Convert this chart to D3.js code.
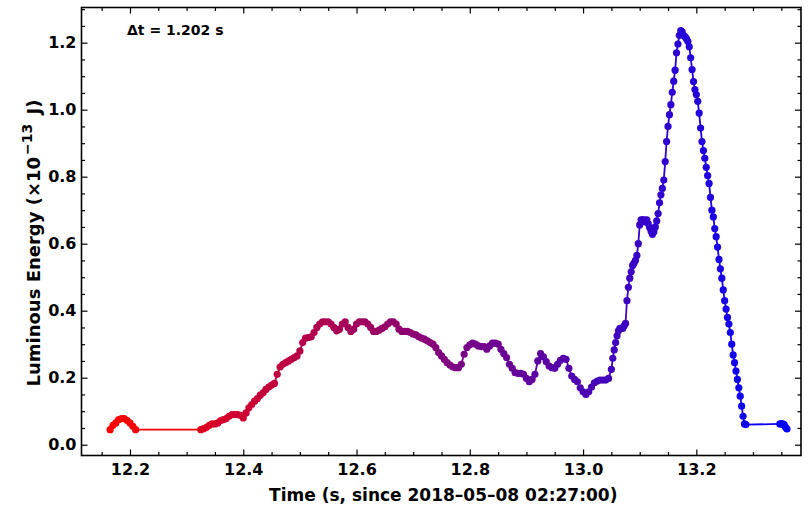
<!DOCTYPE html>
<html><head><meta charset="utf-8">
<script src="https://cdn.jsdelivr.net/npm/d3@7"></script>
<style>
body{margin:0;background:#fff}
svg{display:block}
text{font-family:"DejaVu Sans",sans-serif;font-weight:bold;fill:#000}
</style>
</head><body>
<svg id="c" width="808" height="506"></svg>
<script>
// ---------- data ----------
const times = [
 12.165,12.170,12.175,12.180,12.185,12.190,12.195,12.200,12.205,12.210,
 12.325,12.330,12.335,12.340,12.345,12.350,12.355,12.360,12.365,12.370,
 12.375,12.380,12.385,12.390,12.395,12.400,12.405,12.410,12.415,12.420,
 12.425,12.430,12.435,12.440,12.445,12.450,12.455,12.460,12.465,12.470,
 12.475,12.480,12.485,12.490,12.495,12.500,12.505,12.510,12.515,12.520,
 12.525,12.530,12.535,12.540,12.545,12.550,12.555,12.560,12.565,12.570,
 12.575,12.580,12.585,12.590,12.595,12.600,12.605,12.610,12.615,12.620,
 12.625,12.630,12.635,12.640,12.645,12.650,12.655,12.660,12.665,12.670,
 12.675,12.680,12.685,12.690,12.695,12.700,12.705,12.710,12.715,12.720,
 12.725,12.730,12.735,12.740,12.745,12.750,12.755,12.760,12.765,12.770,
 12.775,12.780,12.785,12.790,12.795,12.800,12.805,12.810,12.815,12.820,
 12.825,12.830,12.835,12.840,12.845,12.850,12.855,12.860,12.865,12.870,
 12.875,12.880,12.885,12.890,12.895,12.900,12.905,12.910,12.915,12.920,
 12.925,12.930,12.935,12.940,12.945,12.950,12.955,12.960,12.965,12.970,
 12.975,12.980,12.985,12.990,12.995,13.000,13.005,13.010,13.015,13.020,
 13.025,13.030,13.035,13.040,13.045,
 13.0500,13.0525,13.0550,13.0575,13.0600,13.0625,13.0650,13.0675,13.0700,13.0725,
 13.0750,13.0775,13.0800,13.0825,13.0850,13.0875,13.0900,13.0925,13.0950,13.0975,
 13.1000,13.1025,13.1050,13.1075,13.1100,13.1125,13.1150,13.1175,13.1200,13.1225,
 13.1250,13.1275,13.1300,13.1325,13.1350,13.1375,13.1400,13.1425,13.1450,13.1475,
 13.1500,13.1525,13.1550,13.1575,13.1600,13.1625,13.1650,13.1675,13.1700,13.1725,
 13.1750,13.1775,13.1800,13.1825,13.1850,13.1875,13.1900,13.1925,13.1950,13.1975,
 13.2000,13.2025,13.2050,13.2075,13.2100,13.2125,13.2150,13.2175,13.2200,13.2225,
 13.2250,13.2275,13.2300,13.2325,13.2350,13.2375,13.2400,13.2425,13.2450,13.2475,
 13.2500,13.2525,13.2550,13.2575,13.2600,13.2625,13.2650,13.2675,13.2700,13.2725,
 13.2750,13.2775,13.2800,13.2825,13.2850,13.2875,
 13.3475,13.3500,13.3525,13.3550,13.3575,13.3600
];
const energy = [
 0.045,0.058,0.065,0.075,0.078,0.078,0.072,0.065,0.055,0.045,
 0.045,0.048,0.052,0.058,0.062,0.062,0.065,0.072,0.075,0.078,
 0.085,0.090,0.090,0.090,0.088,0.080,0.095,0.110,0.120,0.130,
 0.138,0.148,0.155,0.165,0.172,0.178,0.183,0.210,0.232,0.240,
 0.245,0.250,0.255,0.260,0.265,0.280,0.305,0.318,0.320,0.322,
 0.335,0.350,0.360,0.367,0.367,0.367,0.360,0.350,0.340,0.345,
 0.360,0.367,0.350,0.338,0.345,0.360,0.367,0.367,0.367,0.360,
 0.350,0.338,0.338,0.342,0.347,0.352,0.360,0.367,0.367,0.360,
 0.345,0.338,0.338,0.338,0.335,0.330,0.328,0.322,0.318,0.315,
 0.310,0.305,0.300,0.290,0.275,0.265,0.255,0.245,0.238,0.232,
 0.230,0.230,0.240,0.270,0.290,0.298,0.303,0.300,0.295,0.293,
 0.293,0.285,0.295,0.303,0.303,0.300,0.285,0.272,0.260,0.240,
 0.228,0.215,0.213,0.213,0.210,0.198,0.188,0.195,0.210,0.250,
 0.272,0.262,0.248,0.235,0.230,0.228,0.240,0.252,0.258,0.255,
 0.228,0.205,0.195,0.188,0.170,0.158,0.150,0.158,0.172,0.185,
 0.190,0.193,0.193,0.193,0.198,
 0.225,0.258,0.283,0.305,0.325,0.340,0.347,0.347,0.347,0.355,
 0.362,0.430,0.470,0.497,0.516,0.535,0.542,0.550,0.565,0.600,
 0.656,0.671,0.671,0.671,0.665,0.671,0.660,0.648,0.638,0.628,
 0.636,0.650,0.668,0.690,0.722,0.746,0.765,0.790,0.845,0.905,
 0.950,0.985,1.015,1.052,1.085,1.118,1.170,1.196,1.222,1.236,
 1.232,1.222,1.218,1.212,1.204,1.188,1.155,1.120,1.084,1.060,
 1.045,1.025,0.990,0.945,0.905,0.878,0.855,0.828,0.803,0.780,
 0.738,0.700,0.680,0.645,0.621,0.590,0.553,0.525,0.497,0.462,
 0.430,0.405,0.380,0.360,0.335,0.300,0.268,0.245,0.220,0.195,
 0.170,0.145,0.115,0.085,0.062,0.060,
 0.062,0.062,0.062,0.060,0.052,0.047
];
const xTickValues = [12.2, 12.4, 12.6, 12.8, 13.0, 13.2];
const yTickValues = [0.0, 0.2, 0.4, 0.6, 0.8, 1.0, 1.2];
const xTitle = "Time (s, since 2018\u201305\u201308 02:27:00)";
const yTitleMain = "Luminous Energy (\u00d710";
const yTitleSup = "\u221213";
const yTitleEnd = " J)";
const annotation = "\u0394t = 1.202 s";
const startColor = "#ff0000", endColor = "#0000ff";

// ---------- layout ----------
const L = 81.5, R = 801, T = 7.5, B = 455.5;
const svg = d3.select("#c");
const x = d3.scaleLinear().domain([12.1144, 13.3848]).range([L, R]);
const y = d3.scaleLinear().domain([-0.0322, 1.305]).range([B, T]);

const tMin = d3.min(times), tMax = d3.max(times);
const col = d3.scaleLinear().domain([tMin, tMax]).range([startColor, endColor]).interpolate(d3.interpolateRgb);

const pts = times.map((t, i) => ({t, v: energy[i]}));

// line segments
const plot = svg.append("g");
plot.selectAll("line.seg").data(pts.slice(0, -1)).join("line")
  .attr("class", "seg")
  .attr("x1", d => x(d.t)).attr("y1", d => y(d.v))
  .attr("x2", (d, i) => x(pts[i + 1].t)).attr("y2", (d, i) => y(pts[i + 1].v))
  .attr("stroke", d => col(d.t)).attr("stroke-width", 1.8);

plot.selectAll("circle").data(pts).join("circle")
  .attr("cx", d => x(d.t)).attr("cy", d => y(d.v)).attr("r", 3.6)
  .attr("fill", d => col(d.t));

// ---------- axes ----------
const minorX = d3.range(12.15, 13.39, 0.05).filter(v => !xTickValues.some(m => Math.abs(m - v) < 1e-6));
const minorY = d3.range(0.05, 1.31, 0.05).filter(v => !yTickValues.some(m => Math.abs(m - v) < 1e-6));

function styleAxis(g) {
  g.select(".domain").remove();
  g.selectAll("line").attr("stroke", "#000").attr("stroke-width", 1.2);
  g.selectAll("text").style("font-size", "16px").style("font-family", "'DejaVu Sans',sans-serif").style("font-weight", "bold");
}

svg.append("g").attr("transform", `translate(0,${B})`)
  .call(d3.axisBottom(x).tickValues(xTickValues).tickFormat(d3.format(".1f")).tickSize(-6).tickPadding(8)).call(styleAxis);
svg.append("g").attr("transform", `translate(0,${B})`)
  .call(d3.axisBottom(x).tickValues(minorX).tickFormat("").tickSize(-3.5)).call(styleAxis);
svg.append("g").attr("transform", `translate(0,${T})`)
  .call(d3.axisTop(x).tickValues(xTickValues).tickFormat("").tickSize(-6)).call(styleAxis);
svg.append("g").attr("transform", `translate(0,${T})`)
  .call(d3.axisTop(x).tickValues(minorX).tickFormat("").tickSize(-3.5)).call(styleAxis);

svg.append("g").attr("transform", `translate(${L},0)`)
  .call(d3.axisLeft(y).tickValues(yTickValues).tickFormat(d3.format(".1f")).tickSize(-6).tickPadding(5)).call(styleAxis);
svg.append("g").attr("transform", `translate(${L},0)`)
  .call(d3.axisLeft(y).tickValues(minorY).tickFormat("").tickSize(-3.5)).call(styleAxis);
svg.append("g").attr("transform", `translate(${R},0)`)
  .call(d3.axisRight(y).tickValues(yTickValues).tickFormat("").tickSize(-6)).call(styleAxis);
svg.append("g").attr("transform", `translate(${R},0)`)
  .call(d3.axisRight(y).tickValues(minorY).tickFormat("").tickSize(-3.5)).call(styleAxis);

svg.append("rect").attr("x", L).attr("y", T).attr("width", R - L).attr("height", B - T)
  .attr("fill", "none").attr("stroke", "#000").attr("stroke-width", 1.6);

// titles
svg.append("text").attr("x", (L + R) / 2 + 2).attr("y", 501).attr("text-anchor", "middle")
  .style("font-size", "17px").text(xTitle);

const yt = svg.append("text").attr("transform", "translate(40,243) rotate(-90)")
  .attr("text-anchor", "middle").style("font-size", "18px");
yt.append("tspan").text(yTitleMain);
yt.append("tspan").attr("dx", 2).attr("dy", -8).style("font-size", "14px").text(yTitleSup);
yt.append("tspan").attr("dx", 3).attr("dy", 8).text(yTitleEnd);

svg.append("text").attr("x", 127).attr("y", 35).style("font-size", "14px").text(annotation);
</script>
</body></html>
